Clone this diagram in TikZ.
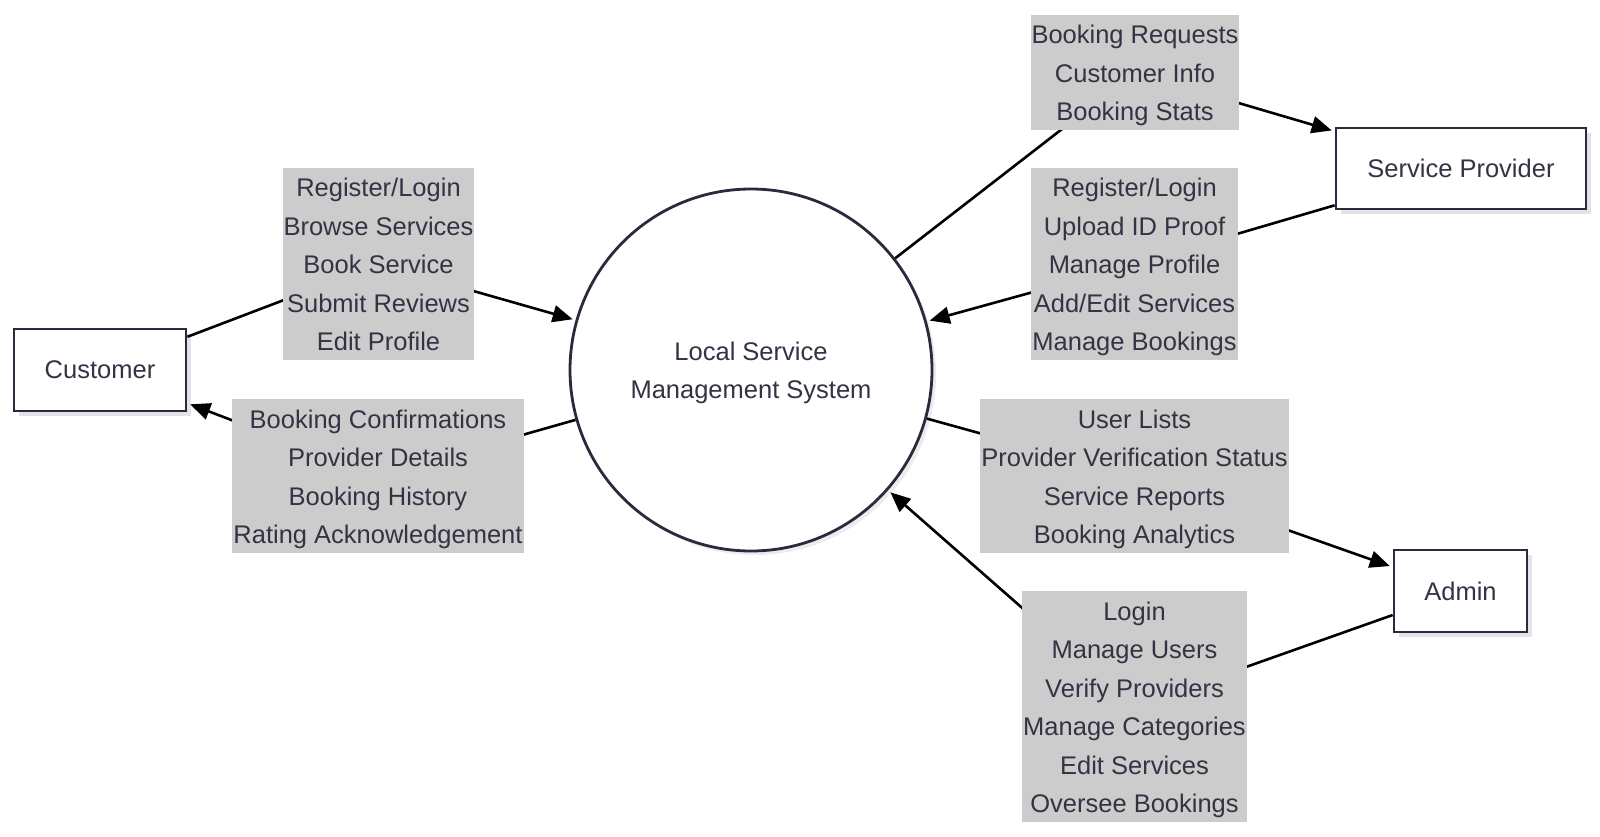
\documentclass[tikz,border=0pt]{standalone}
\usepackage{fontspec}
\setmainfont{Liberation Sans}
\usetikzlibrary{shadows,arrows.meta}
\definecolor{txt}{HTML}{333344}
\definecolor{bord}{HTML}{2A2A3C}
\definecolor{labfill}{HTML}{CCCCCC}
\definecolor{shade}{HTML}{E4E4E8}
\pgfdeclarelayer{fg}
\pgfsetlayers{main,fg}
\newcommand{\dfont}{\fontsize{25.5}{38.5}\selectfont}
\newcommand{\cfont}{\fontsize{25.5}{38}\selectfont}
\newcommand{\ls}{\rule[-9.5pt]{0pt}{38.5pt}}
\newcommand{\cs}{\rule[-10pt]{0pt}{38pt}}
\begin{document}
\begin{tikzpicture}[x=1pt,y=-1pt,
  entity/.style={draw=bord, line width=2.8pt, fill=white, inner sep=0pt, text=txt, font=\dfont,
    drop shadow={shadow xshift=5pt, shadow yshift=-5pt, fill=shade, opacity=1}},
  proc/.style={circle, draw=bord, line width=2.8pt, fill=white, inner sep=0pt, minimum size=362pt,
    align=center, text=txt, font=\cfont,
    drop shadow={shadow xshift=4pt, shadow yshift=-4pt, fill=shade!70, opacity=1}},
  lab/.style={fill=labfill, inner xsep=1pt, inner ysep=0pt, align=center, text=txt, font=\dfont},
  flow/.style={draw=black, line width=2.6pt, line join=round, -{Triangle[length=20pt,width=17pt]}, shorten >=3pt}
]
\useasboundingbox (0,0) rectangle (1600,837);
\node[entity, minimum width=172pt, minimum height=82pt] (cust) at (100,370) {Customer};
\node[entity, minimum width=250pt, minimum height=81pt] (sp) at (1461,168.5) {Service Provider};
\node[entity, minimum width=133pt, minimum height=82pt] (adm) at (1460.5,591) {Admin};
\node[proc] (sys) at (751,370) {\cs Local Service\\\cs Management System};
\begin{pgfonlayer}{fg}
\node[lab] (lcin) at (378.5,264) {\ls Register/Login\\\ls Browse Services\\\ls Book Service\\\ls Submit Reviews\\\ls Edit Profile};
\node[lab] (lcout) at (378,476) {\ls Booking Confirmations\\\ls Provider Details\\\ls Booking History\\\ls Rating Acknowledgement};
\node[lab] (lspout) at (1135,72.5) {\ls Booking Requests\\\ls Customer Info\\\ls Booking Stats};
\node[lab] (lspin) at (1134.5,264) {\ls Register/Login\\\ls Upload ID Proof\\\ls Manage Profile\\\ls Add/Edit Services\\\ls Manage Bookings};
\node[lab] (ladout) at (1134.5,476) {\ls User Lists\\\ls Provider Verification Status\\\ls Service Reports\\\ls Booking Analytics};
\node[lab] (ladin) at (1134.5,706.5) {\ls Login\\\ls Manage Users\\\ls Verify Providers\\\ls Manage Categories\\\ls Edit Services\\\ls Oversee Bookings};
\end{pgfonlayer}
\draw[flow] (cust) -- (lcin.center) -- (sys);
\draw[flow] (sys) -- (lcout.center) -- (cust);
\draw[flow] (sys) -- (lspout.center) -- (sp);
\draw[flow] (sp) -- (lspin.center) -- (sys);
\draw[flow] (sys) -- (ladout.center) -- (adm);
\draw[flow] (adm) -- (ladin.center) -- (sys);
\end{tikzpicture}
\end{document}
